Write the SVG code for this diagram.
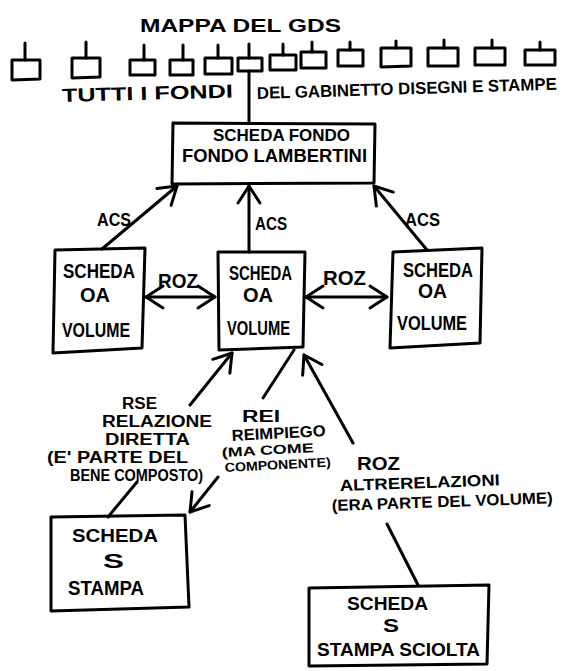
<svg xmlns="http://www.w3.org/2000/svg" width="573" height="671" viewBox="0 0 573 671">
<style>
.bg{fill:#fff}
.box{fill:none;stroke:#000;stroke-width:3;stroke-linejoin:round}
.ln{fill:none;stroke:#000;stroke-width:3;stroke-linecap:round;stroke-linejoin:round}
.t{font-family:"Liberation Sans",Arial,sans-serif;font-weight:bold;fill:#000}
</style>
<defs>
<marker id="ah" viewBox="-20 -14 24 28" markerWidth="24" markerHeight="28" refX="0" refY="0" orient="auto-start-reverse" markerUnits="userSpaceOnUse" overflow="visible">
<path d="M-17,-11 L0,0 L-17,11" fill="none" stroke="#000" stroke-width="3" stroke-linecap="round" stroke-linejoin="round"/>
</marker>
</defs>
<rect class="bg" x="0" y="0" width="573" height="671"/>

<text class="t" x="140" y="32" font-size="19" textLength="201" lengthAdjust="spacingAndGlyphs">MAPPA DEL GDS</text>

<g id="fondi">
<g id="fondo-1"><path class="ln" d="M25,43 V60"/><polygon class="box" points="12,60 40,60 40,79 12,80"/></g>
<g id="fondo-2"><path class="ln" d="M86,42 V58"/><polygon class="box" points="72,58 100,58 100,77 72,78"/></g>
<g id="fondo-3"><path class="ln" d="M144,45 V60"/><polygon class="box" points="130,60 155,60 155,75 130,75"/></g>
<g id="fondo-4"><path class="ln" d="M183,45 V60"/><polygon class="box" points="170,60 193,60 193,75 170,75"/></g>
<g id="fondo-5"><path class="ln" d="M218,45 V58"/><polygon class="box" points="205,58 232,58 232,74 205,74"/></g>
<g id="fondo-6"><path class="ln" d="M249,44 V58"/><polygon class="box" points="238,58 262,58 262,71 238,71"/></g>
<g id="fondo-7"><path class="ln" d="M283,44 V55"/><polygon class="box" points="270,55 296,55 296,70 270,70"/></g>
<g id="fondo-8"><path class="ln" d="M312,42 V52"/><polygon class="box" points="301,52 326,52 326,68 301,68"/></g>
<g id="fondo-9"><path class="ln" d="M350,42 V50"/><polygon class="box" points="338,50 363,50 363,66 338,66"/></g>
<g id="fondo-10"><path class="ln" d="M396,41 V48"/><polygon class="box" points="381,48 411,48 411,66 381,67"/></g>
<g id="fondo-11"><path class="ln" d="M444,40 V48"/><polygon class="box" points="428,48 458,48 458,66 428,66"/></g>
<g id="fondo-12"><path class="ln" d="M492,40 V48"/><polygon class="box" points="475,48 505,48 505,65 475,65"/></g>
<g id="fondo-13"><path class="ln" d="M540,42 V50"/><polygon class="box" points="525,50 555,50 555,65 525,65"/></g>
</g>

<text class="t" x="62" y="102" font-size="19" textLength="171" lengthAdjust="spacingAndGlyphs" transform="rotate(-1.5 62 102)">TUTTI I FONDI</text>
<text class="t" x="257" y="99" font-size="17" textLength="300" lengthAdjust="spacingAndGlyphs" transform="rotate(-1.8 257 99)">DEL GABINETTO DISEGNI E STAMPE</text>

<g id="connectors">
<path class="ln" d="M249,71 V123"/>
<path class="ln" d="M102,249 L177,186" marker-end="url(#ah)"/>
<path class="ln" d="M249,252 V186" marker-end="url(#ah)"/>
<path class="ln" d="M427,250 L374,186" marker-end="url(#ah)"/>
<path class="ln" d="M146,297 H215" marker-start="url(#ah)" marker-end="url(#ah)"/>
<path class="ln" d="M306,297 H387" marker-start="url(#ah)" marker-end="url(#ah)"/>
<path class="ln" d="M108,517 L137,482 M190,405 L232,353" marker-end="url(#ah)"/>
<path class="ln" d="M294,350 L263,398 M218,477 L190,512" marker-end="url(#ah)"/>
<path class="ln" d="M418,585 L387,524 M353,443 L304,355" marker-end="url(#ah)"/>
<text class="t" x="97" y="226" font-size="18" textLength="34" lengthAdjust="spacingAndGlyphs">ACS</text>
<text class="t" x="255" y="230" font-size="18" textLength="32" lengthAdjust="spacingAndGlyphs">ACS</text>
<text class="t" x="405" y="226" font-size="18" textLength="35" lengthAdjust="spacingAndGlyphs">ACS</text>
<text class="t" x="158" y="288" font-size="20" textLength="40" lengthAdjust="spacingAndGlyphs">ROZ</text>
<text class="t" x="323" y="285" font-size="20" textLength="43" lengthAdjust="spacingAndGlyphs">ROZ</text>
<text class="t" x="122" y="409" font-size="16" textLength="35" lengthAdjust="spacingAndGlyphs">RSE</text>
<text class="t" x="102" y="427" font-size="16" textLength="110" lengthAdjust="spacingAndGlyphs">RELAZIONE</text>
<text class="t" x="105" y="445" font-size="16" textLength="85" lengthAdjust="spacingAndGlyphs">DIRETTA</text>
<text class="t" x="47" y="463" font-size="16" textLength="141" lengthAdjust="spacingAndGlyphs">(E' PARTE DEL</text>
<text class="t" x="70" y="481" font-size="16" textLength="133" lengthAdjust="spacingAndGlyphs">BENE COMPOSTO)</text>
<text class="t" x="242" y="422" font-size="16" textLength="38" lengthAdjust="spacingAndGlyphs">REI</text>
<text class="t" x="232" y="441" font-size="16" textLength="94" lengthAdjust="spacingAndGlyphs" transform="rotate(-3 232 441)">REIMPIEGO</text>
<text class="t" x="222" y="457" font-size="13" textLength="92" lengthAdjust="spacingAndGlyphs" transform="rotate(-3 222 457)">(MA COME</text>
<text class="t" x="225" y="472" font-size="13" textLength="106" lengthAdjust="spacingAndGlyphs" transform="rotate(-3 225 472)">COMPONENTE)</text>
<text class="t" x="357" y="470" font-size="19" textLength="43" lengthAdjust="spacingAndGlyphs">ROZ</text>
<text class="t" x="340" y="491" font-size="16" textLength="160" lengthAdjust="spacingAndGlyphs" transform="rotate(-2 340 491)">ALTRERELAZIONI</text>
<text class="t" x="332" y="511" font-size="16" textLength="221" lengthAdjust="spacingAndGlyphs" transform="rotate(-2 332 511)">(ERA PARTE DEL VOLUME)</text>
</g>

<g id="scheda-fondo">
<polygon class="box" points="173,123 375,124 374,183 172,184"/>
<text class="t" x="213" y="141" font-size="17" textLength="137" lengthAdjust="spacingAndGlyphs">SCHEDA FONDO</text>
<text class="t" x="182" y="162" font-size="18" textLength="185" lengthAdjust="spacingAndGlyphs">FONDO LAMBERTINI</text>
</g>

<g id="scheda-oa-sx">
<polygon class="box" points="55,250 145,248 142,348 53,353"/>
<text class="t" x="63" y="278" font-size="20" textLength="72" lengthAdjust="spacingAndGlyphs">SCHEDA</text>
<text class="t" x="80" y="302" font-size="20" textLength="30" lengthAdjust="spacingAndGlyphs">OA</text>
<text class="t" x="62" y="337" font-size="20" textLength="68" lengthAdjust="spacingAndGlyphs">VOLUME</text>
</g>

<g id="scheda-oa-centro">
<polygon class="box" points="218,252 305,252 303,347 219,350"/>
<text class="t" x="229" y="280" font-size="20" textLength="63" lengthAdjust="spacingAndGlyphs">SCHEDA</text>
<text class="t" x="243" y="302" font-size="20" textLength="30" lengthAdjust="spacingAndGlyphs">OA</text>
<text class="t" x="227" y="335" font-size="20" textLength="63" lengthAdjust="spacingAndGlyphs">VOLUME</text>
</g>

<g id="scheda-oa-dx">
<polygon class="box" points="393,252 482,248 480,343 390,348"/>
<text class="t" x="403" y="277" font-size="20" textLength="70" lengthAdjust="spacingAndGlyphs">SCHEDA</text>
<text class="t" x="418" y="298" font-size="20" textLength="29" lengthAdjust="spacingAndGlyphs">OA</text>
<text class="t" x="397" y="330" font-size="20" textLength="70" lengthAdjust="spacingAndGlyphs">VOLUME</text>
</g>

<g id="scheda-s-stampa">
<polygon class="box" points="51,517 185,515 189,607 51,611"/>
<text class="t" x="72" y="542" font-size="19" textLength="86" lengthAdjust="spacingAndGlyphs">SCHEDA</text>
<text class="t" x="103" y="568" font-size="21" textLength="21" lengthAdjust="spacingAndGlyphs">S</text>
<text class="t" x="68" y="595" font-size="20" textLength="76" lengthAdjust="spacingAndGlyphs">STAMPA</text>
</g>

<g id="scheda-s-stampa-sciolta">
<polygon class="box" points="309,588 489,585 487,664 309,666"/>
<text class="t" x="347" y="610" font-size="19" textLength="81" lengthAdjust="spacingAndGlyphs">SCHEDA</text>
<text class="t" x="383" y="632" font-size="18" textLength="16" lengthAdjust="spacingAndGlyphs">S</text>
<text class="t" x="317" y="656" font-size="19" textLength="163" lengthAdjust="spacingAndGlyphs">STAMPA SCIOLTA</text>
</g>
</svg>
